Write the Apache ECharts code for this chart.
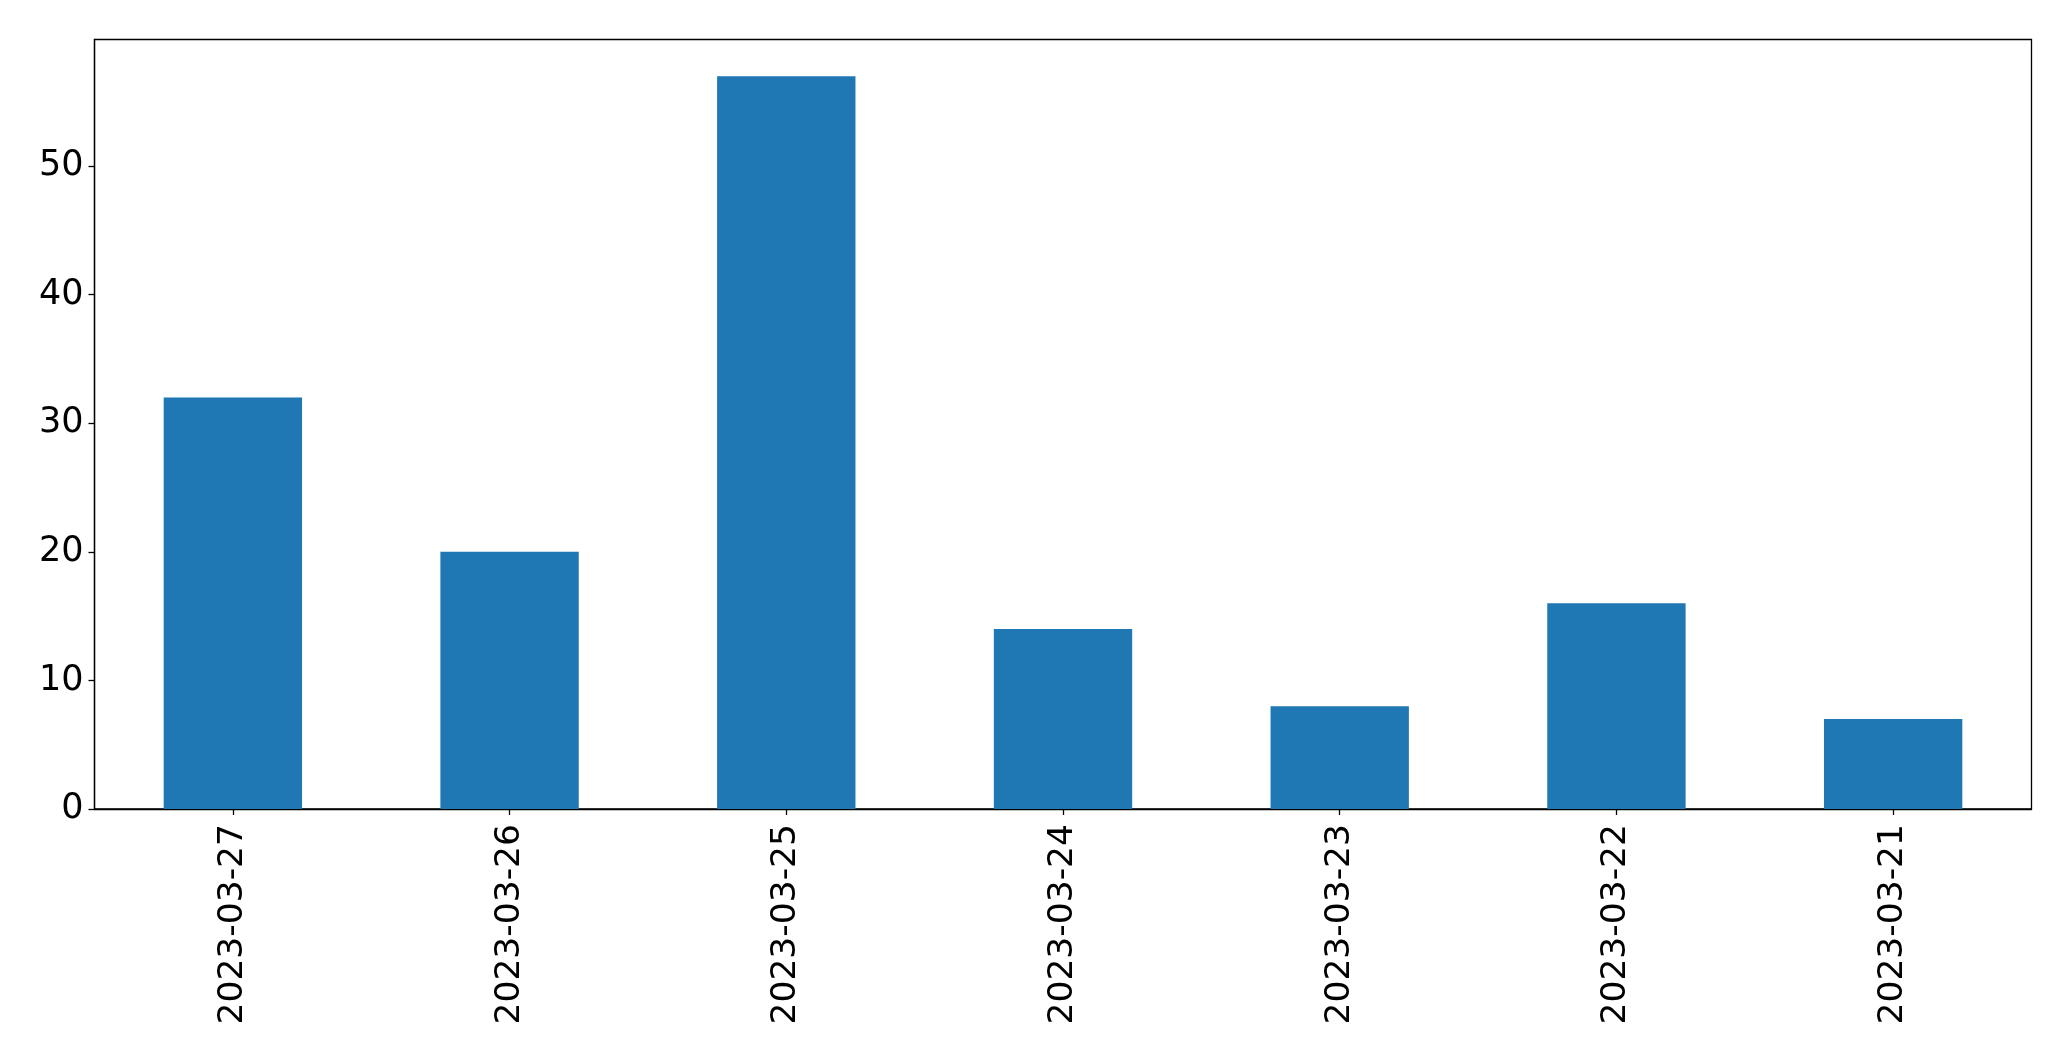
<!DOCTYPE html>
<html>
<head>
<meta charset="utf-8">
<script src="https://cdn.jsdelivr.net/npm/echarts@6/dist/echarts.min.js"></script>
<style>
html,body{margin:0;padding:0;background:#fff;}
#chart{width:2071px;height:1061px;}
</style>
</head>
<body>
<div id="chart"></div>
<script>
const categories = ["2023-03-27","2023-03-26","2023-03-25","2023-03-24","2023-03-23","2023-03-22","2023-03-21"];
const values = [32, 20, 57, 14, 8, 16, 7];
const yTicks = [0, 10, 20, 30, 40, 50];

const chart = echarts.init(document.getElementById('chart'), null, {renderer: 'canvas'});
const font = 'DejaVu Sans';
chart.setOption({
  animation: false,
  backgroundColor: '#ffffff',
  grid: {
    left: 94.5, right: 39.5, top: 39.5, bottom: 252,
    show: true, borderColor: '#000', borderWidth: 1.3, backgroundColor: 'transparent'
  },
  xAxis: {
    type: 'category',
    data: categories,
    axisLine: {show: true, lineStyle: {color: '#000', width: 1.3}},
    axisTick: {show: true, alignWithLabel: true, length: 6, lineStyle: {color: '#000', width: 1.3}},
    axisLabel: {rotate: 90, color: '#000', fontFamily: font, fontSize: 34.5, margin: 15, interval: 0},
    splitLine: {show: false}
  },
  yAxis: {
    type: 'value',
    min: 0,
    max: Math.max(...values) * 1.05,
    interval: 10,
    axisLine: {show: true, lineStyle: {color: '#000', width: 1.3}},
    axisTick: {show: true, length: 6, lineStyle: {color: '#000', width: 1.3}},
    axisLabel: {
      color: '#000', fontFamily: font, fontSize: 35, margin: 11,
      showMaxLabel: false,
      formatter: v => (yTicks.includes(v) ? String(v) : '')
    },
    splitLine: {show: false}
  },
  series: [{
    type: 'bar',
    data: values,
    barWidth: '50%',
    itemStyle: {color: '#1f77b4'}
  }]
});
</script>
</body>
</html>
